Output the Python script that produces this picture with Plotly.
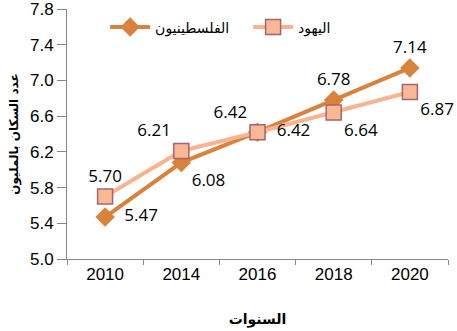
import plotly.graph_objects as go

years = ["2010", "2014", "2016", "2018", "2020"]
palestinians = [5.47, 6.08, 6.42, 6.78, 7.14]
jews = [5.70, 6.21, 6.42, 6.64, 6.87]
y_ticks = [5.0, 5.4, 5.8, 6.2, 6.6, 7.0, 7.4, 7.8]
pal_pos = ["middle right", "bottom right", "top left", "top center", "top center"]
jew_pos = ["top center", "top left", "middle right", "bottom right", "bottom right"]

name_pal = "الفلسطينيون"
name_jew = "اليهود"
y_title = "<b>عدد السكان بالمليون</b>"
x_title = "<b>السنوات</b>"

pal_color = "#D9823B"
jew_color = "#F8B490"

fig = go.Figure()
fig.add_trace(go.Scatter(
    x=years, y=palestinians, name=name_pal, mode="lines+markers+text",
    line=dict(color=pal_color, width=4),
    marker=dict(symbol="diamond", size=15, color=pal_color),
    text=[("  " if p == "middle right" else "") + f"{v:.2f}" for v, p in zip(palestinians, pal_pos)],
    textposition=pal_pos,
    textfont=dict(family="Open Sans", size=17, color="#000000"),
    cliponaxis=False,
))
fig.add_trace(go.Scatter(
    x=years, y=jews, name=name_jew, mode="lines+markers+text",
    line=dict(color=jew_color, width=4),
    marker=dict(symbol="square", size=15, color="#F8B896",
                line=dict(color="#A5656E", width=1.5)),
    text=[("  " if p == "middle right" else "") + f"{v:.2f}" for v, p in zip(jews, jew_pos)],
    textposition=jew_pos,
    textfont=dict(family="Open Sans", size=17, color="#000000"),
    cliponaxis=False,
))

fig.update_layout(
    width=457, height=331,
    margin=dict(l=67, r=9, t=9, b=72, autoexpand=False),
    paper_bgcolor="white", plot_bgcolor="white",
    showlegend=True,
    legend=dict(orientation="h", x=0.1, y=0.99, xanchor="left", yanchor="top",
                font=dict(family="DejaVu Sans", size=14, color="#000000"),
                bgcolor="rgba(0,0,0,0)", itemwidth=40, traceorder="normal",
                entrywidth=88, entrywidthmode="pixels"),
    xaxis=dict(
        type="category", range=[-0.5, 4.5], tickson="boundaries",
        ticks="outside", ticklen=5,
        tickcolor="#868686", showline=True, linecolor="#868686", linewidth=1,
        showgrid=False, zeroline=False, automargin=False,
        tickfont=dict(family="Liberation Sans, Arial", size=17, color="#000000"),
        title=dict(text=x_title, font=dict(family="DejaVu Sans", size=14, color="#000000"),
                   standoff=30),
    ),
    yaxis=dict(
        range=[5.0, 7.8], tickvals=y_ticks, ticktext=[f"{v:.1f}" for v in y_ticks],
        ticks="outside", ticklen=9, tickcolor="#868686", ticklabeloverflow="allow",
        showline=True, linecolor="#868686", linewidth=1,
        showgrid=False, zeroline=False, automargin=False,
        tickfont=dict(family="Liberation Sans, Arial", size=17, color="#000000"),
        title=dict(text=y_title, font=dict(family="DejaVu Sans", size=12, color="#000000"),
                   standoff=8),
    ),
)

fig.write_html("out.html")
